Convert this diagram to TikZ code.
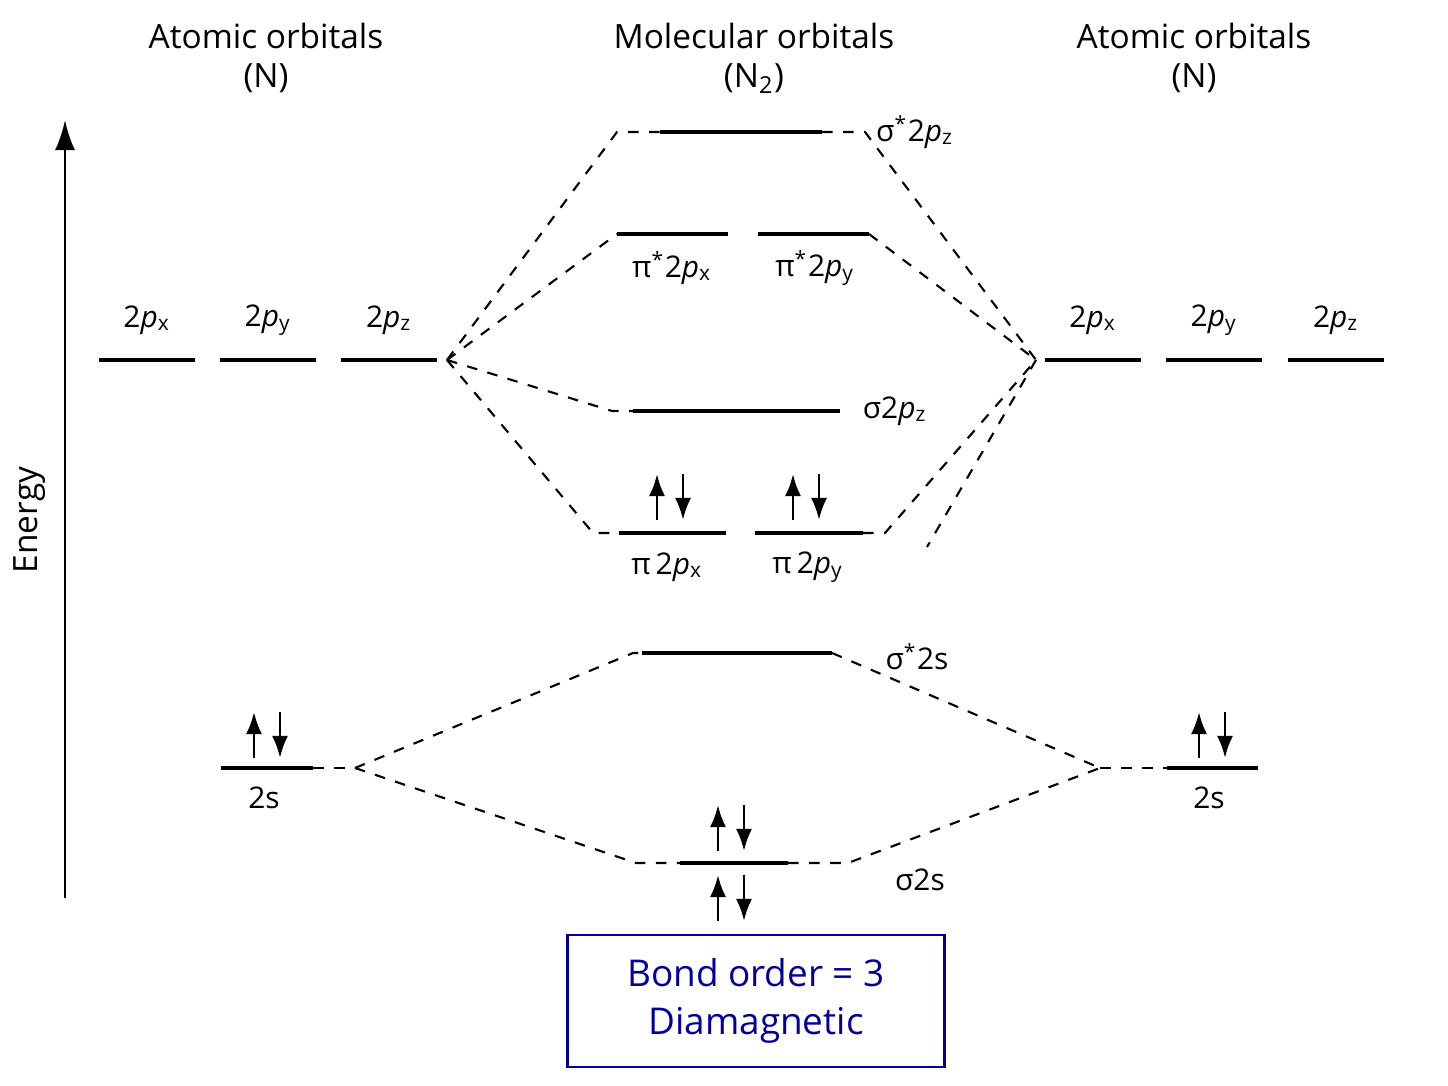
\documentclass[tikz,border=0pt]{standalone}
\usepackage{fontspec}
\setmainfont{Open Sans}
\usetikzlibrary{arrows.meta}
\tikzset{
  level/.style={line width=1.2pt},
  link/.style={dashed,semithick},
  lbl/.style={font=\fontsize{8.5}{10}\selectfont},
  head/.style={font=\fontsize{9.5}{11}\selectfont,align=center},
  spin/.style={-{Latex[length=2.2mm,width=1.6mm]},thick}
}
\newcommand{\pairat}[2]{
  \draw[spin] (#1-13,#2) -- ++(0,-46);
  \draw[spin] (#1+13,#2-46) -- ++(0,46);}
\begin{document}
\begin{tikzpicture}[x=0.01cm,y=-0.01cm]
\useasboundingbox (0,0) rectangle (1448,1086);
% headings
\node[head] (hl) at (266,58) {Atomic orbitals\\(N)};
\node[head] (hm) at (754,58) {Molecular orbitals\\(N\textsubscript{2})};
\node[head] (hr) at (1194,58) {Atomic orbitals\\(N)};
% energy axis
\coordinate (e0) at (65,898);
\coordinate (e1) at (65,120);
\draw[-{Latex[length=3mm,width=2mm]},thick] (e0) -- (e1);
\node[head,rotate=90] (energy) at (30,520) {Energy};
% atomic 2p
\foreach \x/\s in {147/x,268/y,389/z,1093/x,1214/y,1336/z}{
  \draw[level] (\x-48,360) -- (\x+48,360);
  \node[lbl] at (\x,320) {2\textit{p}\textsubscript{\s}};}
\coordinate (pl) at (447,360);
\coordinate (pr) at (1036,360);
% atomic 2s
\draw[level] (221,768) -- (313,768);
\draw[level] (1167,768) -- (1258,768);
\pairat{267}{758}
\pairat{1212}{758}
\node[lbl] (sl) at (264,798) {2s};
\node[lbl] (sr) at (1209,798) {2s};
\coordinate (cl) at (355,768);
\coordinate (cr) at (1100,768);
\draw[link] (313,768) -- (cl);
\draw[link] (cr) -- (1167,768);
% sigma* 2pz
\draw[level] (660,132) -- (822,132);
\draw[link] (pl) -- (617,132) -- (660,132);
\draw[link] (822,132) -- (865,132) -- (pr);
\node[lbl] (ss2p) at (915,132) {σ\textsuperscript{*}2\textit{p}\textsubscript{z}};
% pi* 2p
\draw[level] (617,234) -- (728,234);
\draw[level] (758,234) -- (869,234);
\draw[link] (pl) -- (617,234);
\draw[link] (869,234) -- (pr);
\node[lbl] (psx) at (672,268) {π\textsuperscript{*}2\textit{p}\textsubscript{x}};
\node[lbl] (psy) at (815,268) {π\textsuperscript{*}2\textit{p}\textsubscript{y}};
% sigma 2pz
\draw[level] (633,411) -- (840,411);
\draw[link] (pl) -- (612,411) -- (633,411);
\coordinate (loose) at (927,547);
\draw[link] (pr) -- (loose);
\node[lbl] (s2p) at (895,411) {σ2\textit{p}\textsubscript{z}};
% pi 2p
\draw[level] (619,533) -- (726,533);
\draw[level] (755,533) -- (863,533);
\draw[link] (pl) -- (593,533) -- (619,533);
\draw[link] (863,533) -- (885,533) -- (pr);
\pairat{670}{520}
\pairat{806}{520}
\node[lbl] (px) at (667,567) {π\,2\textit{p}\textsubscript{x}};
\node[lbl] (py) at (808,567) {π\,2\textit{p}\textsubscript{y}};
% sigma* 2s
\draw[level] (642,653) -- (832,653);
\draw[link] (cl) -- (633,653) -- (642,653);
\draw[link] (832,653) -- (cr);
\node[lbl] (ss2s) at (917,657) {σ\textsuperscript{*}2s};
% sigma 2s
\draw[level] (680,863) -- (788,863);
\draw[link] (cl) -- (636,863) -- (680,863);
\draw[link] (788,863) -- (848,863) -- (cr);
\pairat{731}{851}
\pairat{731}{921}
\node[lbl] (s2s) at (920,880) {σ2s};
% box
\node[draw=blue!60!black,thick,text=blue!60!black,font=\fontsize{10.5}{13.7}\selectfont,
  align=center,minimum width=3.77cm,minimum height=1.32cm] (bond) at (756,1001)
  {Bond order = 3\\Diamagnetic};
\end{tikzpicture}
\end{document}
